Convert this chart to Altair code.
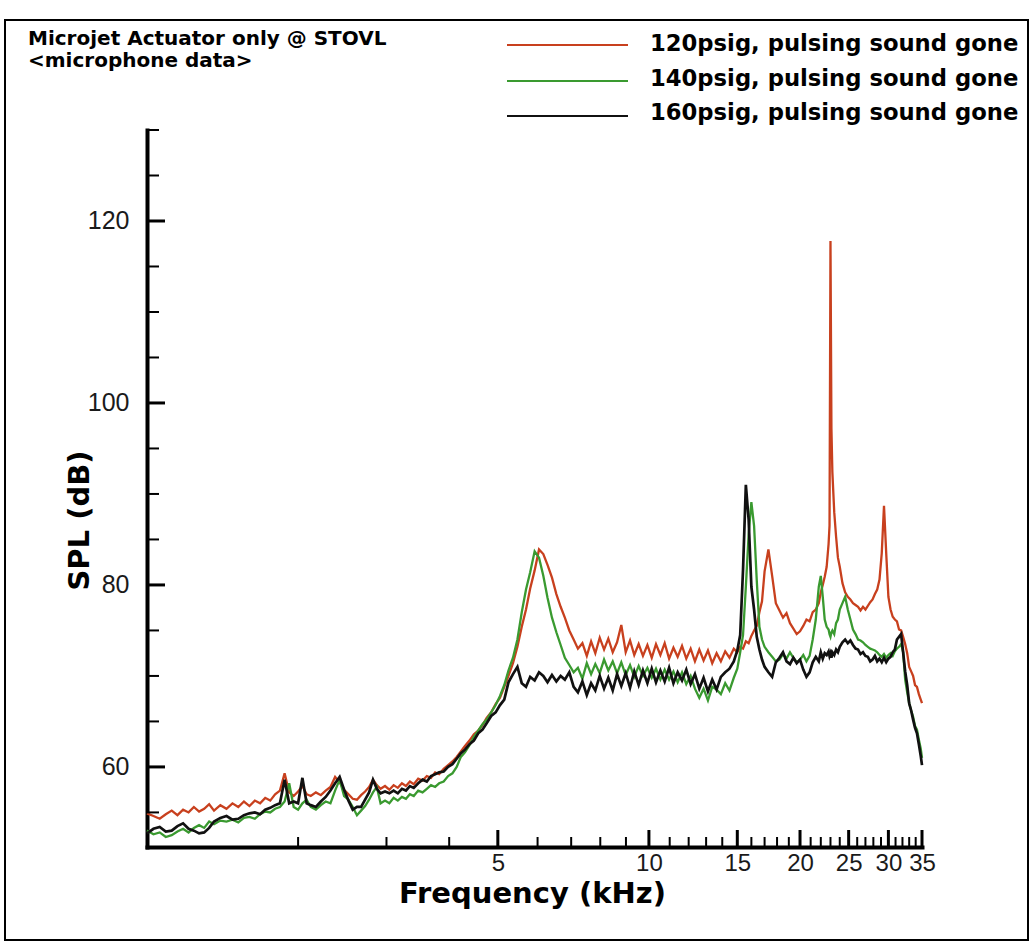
import altair as alt
import pandas as pd

# Microphone spectra, SPL (dB) against frequency (kHz), one value per frequency sample
FREQ_KHZ = [
    1.00, 1.03, 1.06, 1.09, 1.12, 1.15, 1.18, 1.21, 1.24, 1.27,
    1.30, 1.33, 1.36, 1.40, 1.44, 1.48, 1.52, 1.56, 1.60, 1.64,
    1.68, 1.72, 1.76, 1.80, 1.84, 1.88, 1.92, 1.96, 2.00, 2.04,
    2.08, 2.12, 2.17, 2.22, 2.27, 2.32, 2.37, 2.42, 2.47, 2.52,
    2.57, 2.62, 2.67, 2.72, 2.77, 2.82, 2.87, 2.92, 2.98, 3.04,
    3.10, 3.16, 3.22, 3.28, 3.34, 3.40, 3.47, 3.54, 3.61, 3.68,
    3.75, 3.82, 3.90, 3.98, 4.06, 4.14, 4.22, 4.30, 4.39, 4.48,
    4.57, 4.66, 4.75, 4.85, 4.95, 5.05, 5.15, 5.25, 5.36, 5.47,
    5.58, 5.69, 5.80, 5.92, 6.04, 6.16, 6.28, 6.41, 6.54, 6.67,
    6.80, 6.94, 7.08, 7.22, 7.37, 7.52, 7.67, 7.82, 7.98, 8.14,
    8.30, 8.47, 8.64, 8.81, 8.99, 9.17, 9.35, 9.54, 9.73, 9.93,
    10.13, 10.33, 10.54, 10.75, 10.97, 11.19, 11.41, 11.64, 11.87, 12.11,
    12.35, 12.60, 12.85, 13.11, 13.37, 13.64, 13.91, 14.19, 14.47, 14.76,
    15.0, 15.2, 15.4, 15.6, 15.8, 16.0, 16.2, 16.4, 16.6, 16.8,
    17.0, 17.3, 17.6, 17.9, 18.2, 18.5, 18.8, 19.1, 19.4, 19.7,
    20.0, 20.3, 20.6, 20.9, 21.2, 21.5, 21.8, 22.0, 22.2, 22.4,
    22.6, 22.8, 22.9, 23.0, 23.1, 23.2, 23.4, 23.6, 23.8, 24.0,
    24.3, 24.6, 24.9, 25.2, 25.5, 25.8, 26.1, 26.4, 26.7, 27.0,
    27.3, 27.6, 27.9, 28.2, 28.5, 28.8, 29.1, 29.4, 29.7, 30.0,
    30.3, 30.6, 30.9, 31.2, 31.5, 31.8, 32.1, 32.4, 32.7, 33.0,
    33.3, 33.6, 33.9, 34.2, 34.5, 34.8, 35.0,
]

SPL_120 = [
    54.9, 54.6, 54.3, 54.8, 55.2, 54.7, 55.3, 55.0, 55.6, 55.1,
    55.4, 55.9, 55.2, 55.8, 55.4, 56.0, 55.6, 56.2, 55.7, 56.3,
    56.0, 56.6, 56.3, 57.0, 57.4, 59.3, 57.2, 56.8, 57.3, 57.9,
    57.0, 56.8, 57.2, 56.9, 57.4, 57.8, 58.9, 58.3, 57.5, 57.0,
    56.5, 56.4, 56.9, 57.3, 57.8, 58.6, 58.0, 57.6, 57.9, 57.5,
    58.0, 57.7, 58.2, 57.9, 58.4, 58.1, 58.7, 58.5, 59.0, 58.8,
    59.4, 59.2, 59.8, 60.2, 60.6, 61.1, 61.7, 62.3, 62.9, 63.6,
    64.0, 64.6, 65.4, 66.0, 66.9, 67.6, 68.8, 70.0, 71.4, 73.2,
    75.4, 77.3, 79.6, 81.6, 83.9, 83.4, 82.2, 80.8, 79.0, 77.6,
    76.4, 75.0, 74.0, 73.0, 73.6, 72.2, 73.8, 72.5, 74.2, 72.9,
    74.1, 72.6, 73.7, 75.6, 72.6, 73.9, 72.3, 73.5, 72.2, 73.4,
    72.0, 73.5, 72.3, 73.6, 71.9, 73.1, 72.1, 73.3, 71.9, 73.0,
    71.6, 72.9, 71.7, 72.8, 71.4, 72.5, 71.6, 72.7, 72.0, 73.0,
    72.6, 73.2, 73.0, 73.8, 73.6, 74.4, 75.0, 75.5, 77.0, 78.2,
    81.5, 83.9, 81.0, 78.0, 77.2, 76.4, 76.9, 75.8, 75.2, 74.6,
    74.9, 75.5, 76.2, 76.0, 77.0, 77.3, 78.0, 79.2, 80.0, 80.9,
    82.0, 84.5, 86.5, 117.8, 97.2, 92.4, 88.0, 85.3, 83.0, 82.0,
    80.2, 79.2, 78.7, 78.4, 78.0, 77.8, 77.6, 77.2, 77.6, 77.3,
    77.7, 78.1, 78.4, 79.0, 79.5, 80.6, 83.5, 88.7, 83.5, 78.7,
    77.3, 76.5, 76.2, 76.0, 75.1, 75.0, 74.3, 73.5, 72.5, 71.0,
    70.5, 70.0, 69.0, 68.8, 68.0, 67.4, 67.0,
]

SPL_140 = [
    53.0, 52.6, 52.8, 52.3, 52.5, 52.9, 53.2, 52.8, 53.3, 53.6,
    53.3, 54.0, 53.7, 54.1, 54.0, 54.2, 53.9, 54.4, 54.5, 54.3,
    54.8, 55.1, 55.0, 55.4, 55.6, 56.2, 58.2, 55.6, 55.3, 56.0,
    56.4, 55.6, 55.3, 55.8, 56.2, 56.0, 57.4, 58.6, 56.8, 56.4,
    55.6, 54.7, 55.2, 55.7, 56.4, 57.2, 57.8, 56.0, 56.3, 56.0,
    56.6, 56.3, 56.7, 56.5, 57.0, 56.8, 57.4, 57.2, 57.6, 58.0,
    57.8, 58.2, 58.4, 59.0, 59.3, 60.0, 61.1, 61.6, 62.4, 63.3,
    64.0, 64.7, 65.2, 66.0, 66.8, 67.8, 69.0, 70.6, 72.0, 74.0,
    77.0, 79.5, 81.4, 83.7, 83.0, 81.0, 78.6, 76.4, 74.8, 73.4,
    72.0, 71.2, 70.4, 70.9, 69.7, 71.4, 70.2, 71.3, 70.3, 71.8,
    70.6, 71.6, 70.3, 71.5, 70.1, 71.2, 69.9, 71.1, 70.0, 70.9,
    69.8, 70.8, 69.6, 70.7, 69.6, 70.5, 69.3, 70.4, 69.1, 70.0,
    68.6, 67.6, 68.6, 67.3, 68.8, 68.5, 68.0, 69.2, 68.4, 69.8,
    70.8, 72.6, 74.5, 79.8, 85.5, 89.1, 86.5, 80.5, 75.4, 74.0,
    73.2, 72.6, 72.1, 71.6, 71.8, 72.4, 71.9, 72.6, 72.0, 71.5,
    71.8, 72.3, 71.6, 72.2, 74.0, 76.2, 79.8, 81.0, 78.7, 76.2,
    75.4, 75.1, 74.6, 74.3, 74.8, 75.0, 74.6, 75.8, 76.2, 77.3,
    78.0, 78.7, 77.3, 76.2, 75.1, 74.6, 74.0, 73.9, 73.7, 73.4,
    73.2, 73.0, 72.9, 72.8, 72.6, 72.3, 72.1, 72.4, 72.0, 72.3,
    72.5, 72.2, 72.7, 73.0, 73.2, 73.5, 72.6, 69.6, 68.2, 67.0,
    66.2, 65.5, 64.5, 64.1, 63.0, 62.0, 61.0,
]

SPL_160 = [
    52.7, 53.2, 53.4, 52.9, 53.0, 53.5, 53.8, 53.2, 53.0, 52.7,
    52.8, 53.3, 54.0, 54.4, 54.6, 54.2, 54.3, 54.7, 54.9, 55.0,
    54.8, 55.3, 55.5, 55.8, 56.0, 58.6, 56.0, 56.2, 56.0, 58.8,
    56.0, 55.8, 55.6, 56.2, 56.7, 57.4, 58.2, 58.9, 57.5, 56.3,
    55.3, 55.6, 55.6, 56.4, 57.2, 58.6, 57.6, 57.1, 57.3, 57.1,
    57.4, 57.1, 57.6, 57.4, 57.9, 57.7, 58.2, 58.6, 58.4, 59.0,
    59.2, 59.4, 59.5, 60.0, 60.3, 60.9, 61.5, 61.9, 62.5, 62.9,
    63.7, 64.1, 64.8, 65.6, 66.0, 66.8, 67.4, 69.3, 70.2, 71.0,
    69.2, 68.8, 69.9, 69.5, 70.4, 70.0, 69.3, 70.1, 69.4, 70.0,
    69.6, 70.4, 68.8, 68.2, 69.4, 67.9, 69.2, 68.4, 70.0, 68.6,
    69.8, 68.4, 70.2, 68.9, 70.3, 68.7, 70.5, 69.0, 70.6, 69.2,
    70.8, 69.3, 70.6, 69.4, 70.9, 69.2, 70.4, 69.5, 70.7, 69.1,
    70.2, 68.6, 69.8, 68.3, 69.6, 68.5, 69.9, 70.4, 70.8, 71.6,
    72.8, 74.5, 81.7, 91.0, 87.2, 79.8, 77.3, 74.3, 72.9, 71.8,
    71.0, 70.4, 69.9, 71.5, 72.0, 72.6, 71.6, 71.3, 72.0, 71.4,
    71.8, 70.7, 69.9, 70.4, 71.5, 72.1, 71.6, 72.6, 71.9, 72.5,
    72.3, 72.7, 72.2, 72.5, 72.0, 72.6, 72.3, 72.9, 72.6, 73.2,
    73.7, 74.0, 73.6, 73.9, 73.4, 73.0, 72.9, 72.4, 72.6, 72.2,
    72.1, 71.6, 71.8, 72.2, 71.6, 71.9, 71.5, 72.0, 71.5, 71.9,
    72.1, 72.6, 72.9, 74.0, 74.3, 74.6, 72.6, 70.5, 69.0, 67.0,
    66.2, 65.2, 64.3, 63.7, 62.5, 61.2, 60.2,
]

SERIES_LABELS = [
    "120psig, pulsing sound gone",
    "140psig, pulsing sound gone",
    "160psig, pulsing sound gone",
]
SERIES_COLORS = ["#c8401e", "#3a9a30", "#111111"]
SERIES_WIDTHS = [2.3, 2.3, 2.7]

TITLE_LINES = ["Microjet Actuator only @ STOVL", "<microphone data>"]

X_LABELED = [5, 10, 15, 20, 25, 30, 35]
X_MINOR = [2, 3, 4, 6, 7, 8, 9, 11, 12, 13, 14, 16, 17, 18, 19,
           21, 22, 23, 24, 26, 27, 28, 29, 31, 32, 33, 34]
Y_LABELED = [60, 80, 100, 120]
Y_MINOR = [55, 65, 70, 75, 85, 90, 95, 105, 110, 115, 125, 130]

W, H = 775, 717
xs = alt.Scale(type="log", domain=[1, 35], nice=False)
ys = alt.Scale(domain=[51.2, 130], nice=False, zero=False)

TICK_FONT = "Liberation Sans"
BOLD_FONT = "DejaVu Sans"

# One axis definition per channel, shared by every layer that uses the scale
x_axis = alt.Axis(
    values=X_LABELED, format="d", ticks=False, grid=False,
    domainColor="black", domainWidth=4, domainCap="square",
    labelFont=TICK_FONT, labelFontSize=24, labelColor="#1a1a1a",
    labelPadding=4, labelFlush=False, labelOverlap=False,
    title="Frequency (kHz)", titleFont=BOLD_FONT, titleFontSize=29,
    titleFontWeight="bold", titleColor="black",
    titleX=385, titleY=55, titleAlign="center", titleBaseline="alphabetic",
)
y_axis = alt.Axis(
    values=Y_LABELED, format="d", ticks=False, grid=False,
    domainColor="black", domainWidth=4, domainCap="square",
    labelFont=TICK_FONT, labelFontSize=25, labelColor="#1a1a1a",
    labelPadding=18,
    title="SPL (dB)", titleFont=BOLD_FONT, titleFontSize=29,
    titleFontWeight="bold", titleColor="black", titleAngle=270,
    titleX=-59, titleY=390, titleAlign="center", titleBaseline="alphabetic",
)


def spectrum(values, color, width):
    df = pd.DataFrame({"freq": FREQ_KHZ, "spl": values})
    return alt.Chart(df).mark_line(color=color, strokeWidth=width).encode(
        x=alt.X("freq:Q", scale=xs, axis=x_axis),
        y=alt.Y("spl:Q", scale=ys, axis=y_axis),
    )


def y_ticks(vals, length, width):
    return alt.Chart(pd.DataFrame({"v": vals})).mark_rule(
        color="black", strokeWidth=width
    ).encode(
        y=alt.Y("v:Q", scale=ys, axis=y_axis),
        x=alt.value(0), x2=alt.value(length),
    )


def x_ticks(vals, length, width):
    return alt.Chart(pd.DataFrame({"v": vals})).mark_rule(
        color="black", strokeWidth=width
    ).encode(
        x=alt.X("v:Q", scale=xs, axis=x_axis),
        y=alt.value(H), y2=alt.value(H - length),
    )


def label(text, x, y, size):
    return alt.Chart(pd.DataFrame({"t": [text]})).mark_text(
        align="left", baseline="alphabetic", font=BOLD_FONT,
        fontSize=size, fontWeight="bold", color="black",
    ).encode(text="t:N", x=alt.value(x), y=alt.value(y))


frame = alt.Chart(pd.DataFrame({"a": [0]})).mark_rect(
    fillOpacity=0, stroke="black", strokeWidth=2
).encode(
    x=alt.value(-142), x2=alt.value(881), y=alt.value(-110), y2=alt.value(810)
)

legend_layers = []
for i, (name, color) in enumerate(zip(SERIES_LABELS, SERIES_COLORS)):
    line_y = [-85, -49, -14][i]
    text_y = [-79, -44, -10][i]
    legend_layers.append(
        alt.Chart(pd.DataFrame({"t": [name]})).mark_rule(
            color=color, strokeWidth=2
        ).encode(x=alt.value(360), x2=alt.value(481), y=alt.value(line_y))
    )
    legend_layers.append(label(name, 503, text_y, 22.7))

chart = alt.layer(
    spectrum(SPL_120, SERIES_COLORS[0], SERIES_WIDTHS[0]),
    spectrum(SPL_140, SERIES_COLORS[1], SERIES_WIDTHS[1]),
    spectrum(SPL_160, SERIES_COLORS[2], SERIES_WIDTHS[2]),
    y_ticks(Y_LABELED, 18, 3),
    y_ticks(Y_MINOR, 12, 2),
    x_ticks(X_LABELED, 17, 3),
    x_ticks(X_MINOR, 10, 2),
    frame,
    label(TITLE_LINES[0], -119, -85, 20),
    label(TITLE_LINES[1], -119, -63, 20),
    *legend_layers,
).properties(
    width=W,
    height=H,
    padding={"left": 147, "top": 130, "right": 113, "bottom": 100},
    autosize=alt.AutoSizeParams(type="none"),
    background="white",
).configure_view(stroke=None)

chart.save("out.html", embed_options={"renderer": "svg", "actions": False})
